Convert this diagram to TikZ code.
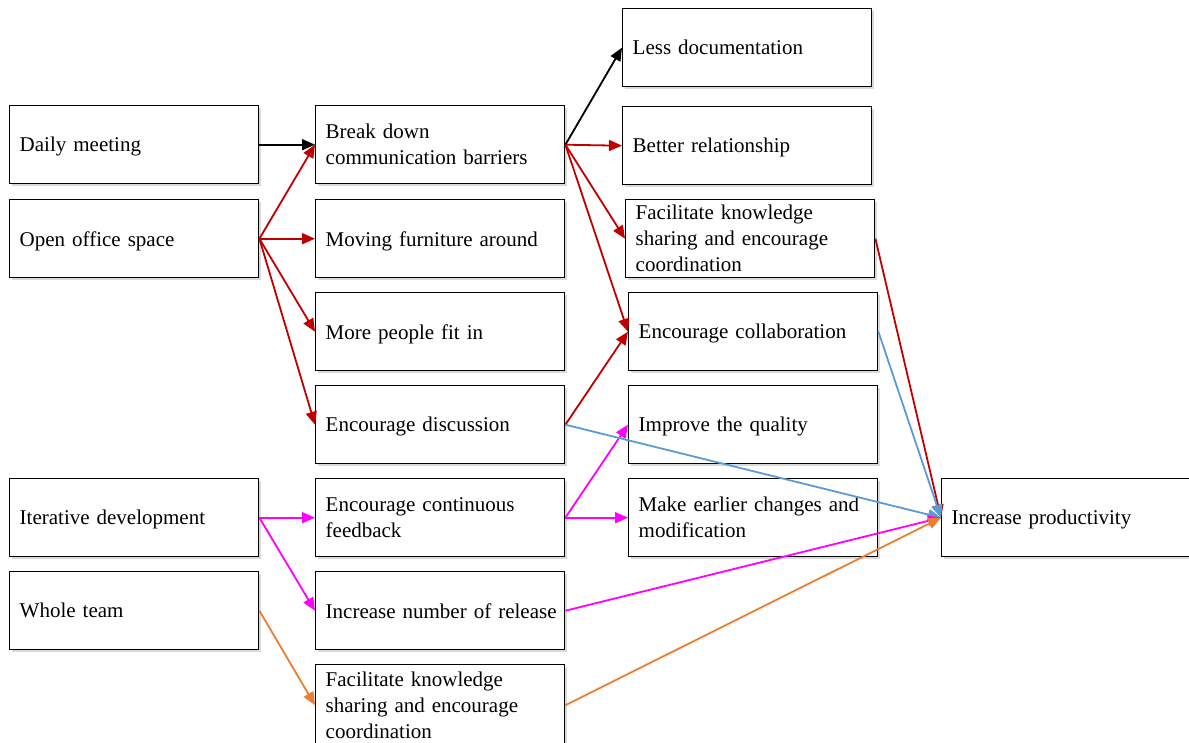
\documentclass[tikz,border=0pt]{standalone}
\usepackage{fontspec}
\setmainfont{Liberation Serif}
\usetikzlibrary{arrows.meta,shadows}

\definecolor{cred}{HTML}{C00000}
\definecolor{cmag}{HTML}{FF00FF}
\definecolor{cblue}{HTML}{5B9BD5}
\definecolor{corange}{HTML}{ED7D31}

\tikzset{
  box/.style={draw=black, line width=1.4pt, fill=white, anchor=north west,
    minimum height=78pt, text width=229pt, inner xsep=10pt, inner ysep=0pt,
    align=left, font=\fontsize{21}{26}\selectfont,
    general shadow={fill=black, opacity=0.15, shadow xshift=2pt, shadow yshift=-2pt}},
  % single-line boxes: baseline kept at the same height whatever the letters
  onebox/.style={box, text depth=0pt},
  link/.style={line width=1.8pt, -{Triangle[length=13pt,width=11pt]}},
}

\begin{document}
\begin{tikzpicture}[x=1pt, y=-1pt]
\useasboundingbox (0,0) rectangle (1189,742);

% first column: practices
\node[onebox] (dm) at (9,105) {Daily meeting};
\node[onebox] (oos) at (9,199) {Open office space};
\node[onebox] (itd) at (9,478) {Iterative development};
\node[onebox] (wt) at (9,571) {Whole team};

% second column: direct effects
\node[box] (bdc) at (315,105) {Break down\\communication barriers};
\node[onebox] (mfa) at (315,199) {Moving furniture around};
\node[onebox] (mpf) at (315,292) {More people fit in};
\node[onebox] (edi) at (315,385) {Encourage discussion};
\node[box] (ecf) at (315,478) {Encourage continuous\\feedback};
\node[onebox] (inr) at (315,571) {\mbox{Increase number of release}};
\node[box, minimum height=81pt] (fks2) at (315,664) {Facilitate knowledge\\sharing and encourage\\coordination};

% third column: further effects
\node[onebox] (ldo) at (622,8) {Less documentation};
\node[onebox] (bre) at (622,106) {Better relationship};
\node[box] (fks1) at (625,199) {Facilitate knowledge\\sharing and encourage\\coordination};
\node[onebox] (eco) at (628,292) {Encourage collaboration};
\node[onebox] (iqu) at (628,385) {Improve the quality};
\node[box] (mec) at (628,478) {Make earlier changes and\\modification};

% outcome
\node[onebox] (ipr) at (941,478) {Increase productivity};

% connectors
\draw[link, black] (dm.east) -- (bdc.west);
\draw[link, cred] (oos.east) -- (bdc.west);
\draw[link, cred] (oos.east) -- (mfa.west);
\draw[link, cred] (oos.east) -- (mpf.west);
\draw[link, cred] (oos.east) -- (edi.west);

\draw[link, black] (bdc.east) -- (ldo.west);
\draw[link, cred] (bdc.east) -- (bre.west);
\draw[link, cred] (bdc.east) -- (fks1.west);
\draw[link, cred] (bdc.east) -- (eco.west);
\draw[link, cred] (edi.east) -- (eco.west);

\draw[link, cmag] (itd.east) -- (ecf.west);
\draw[link, cmag] (itd.east) -- (inr.west);
\draw[link, cmag] (ecf.east) -- (iqu.west);
\draw[link, cmag] (ecf.east) -- (mec.west);
\draw[link, corange] (wt.east) -- (fks2.west);

\draw[link, cblue] (edi.east) -- (ipr.west);
\draw[link, cred] (fks1.east) -- (ipr.west);
\draw[link, cblue] (eco.east) -- (ipr.west);
\draw[link, cmag] (inr.east) -- (ipr.west);
\draw[link, corange] (fks2.east) -- (ipr.west);
\end{tikzpicture}
\end{document}
